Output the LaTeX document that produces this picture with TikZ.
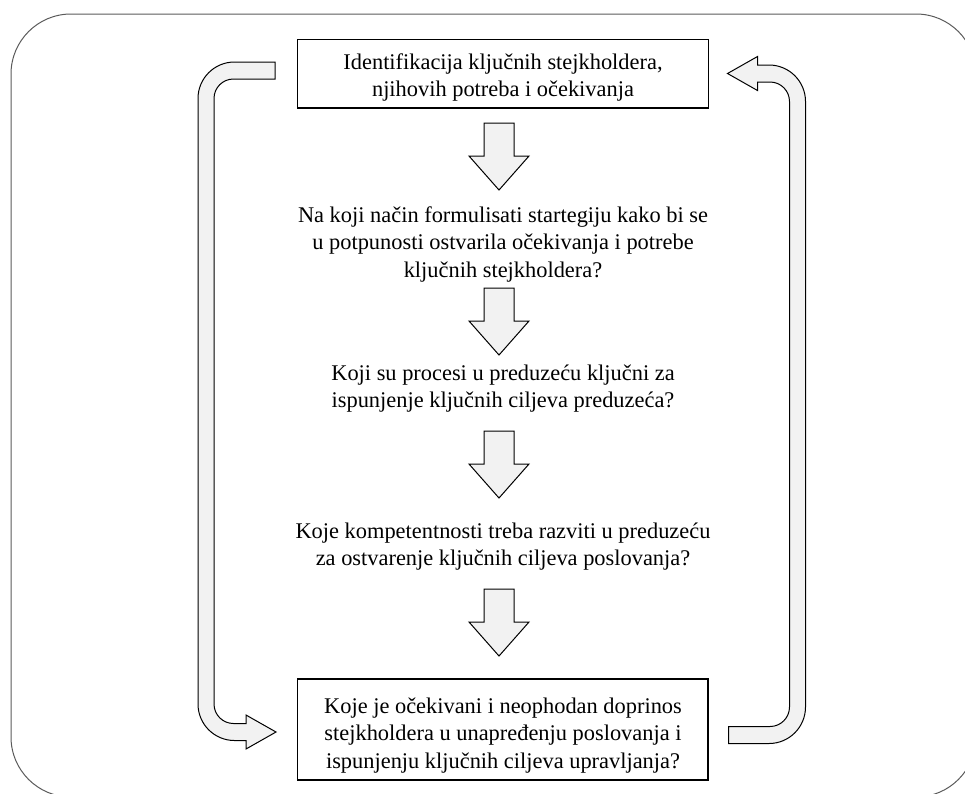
\documentclass[tikz,border=0pt]{standalone}
\usepackage{fontspec}
\setmainfont{Liberation Serif}
\definecolor{arrowfill}{HTML}{F2F2F2}
\definecolor{framegray}{HTML}{5A5A5A}
\begin{document}
\begin{tikzpicture}[x=1pt,y=-1pt,
  txt/.style={font=\fontsize{22.4}{27.5}\selectfont, align=center, inner sep=0pt},
  stepbox/.style={draw=black, line width=1.2pt, inner sep=0pt, minimum width=410.5pt},
  flowarrow/.style={draw=black, line width=1pt, fill=arrowfill, line join=miter},
  outerframe/.style={draw=framegray, line width=1pt},
  dnarrow/.pic={\draw[flowarrow] (-15,0) -- (15,0) -- (15,33) -- (30,33) -- (0,67)
                 -- (-30,33) -- (-15,33) -- cycle;}]
\useasboundingbox (0,0) rectangle (965,793);
\clip (0,0) rectangle (965,793);

% rounded outer frame (runs past the right and bottom edges)
\draw[outerframe, rounded corners=60pt] (11,14) rectangle (976,797);

% boxed steps
\node[stepbox, minimum height=68.5pt] (box1) at (503,73.75) {};
\node[stepbox, minimum height=101pt] (box5) at (502.75,729.5) {};

% step texts
\node[txt] (t1) at (503,77.7) {Identifikacija ključnih stejkholdera,\\njihovih potreba i očekivanja};
\node[txt] (t2) at (503,244.3) {Na koji način formulisati startegiju kako bi se\\u potpunosti ostvarila očekivanja i potrebe\\ključnih stejkholdera?};
\node[txt] (t3) at (503,388.4) {Koji su procesi u preduzeću ključni za\\ispunjenje ključnih ciljeva preduzeća?};
\node[txt] (t4) at (503,546.8) {Koje kompetentnosti treba razviti u preduzeću\\za ostvarenje ključnih ciljeva poslovanja?};
\node[txt] (t5) at (503,735.4) {Koje je očekivani i neophodan doprinos\\stejkholdera u unapređenju poslovanja i\\ispunjenju ključnih ciljeva upravljanja?};

% downward block arrows between steps
\pic (a1) at (499,123) {dnarrow};
\pic (a2) at (499,288) {dnarrow};
\pic (a3) at (499,431) {dnarrow};
\pic (a4) at (499,589) {dnarrow};

% left bent arrow: from the first step down to the last one
\draw[flowarrow] (275,79) -- (233.5,79) arc[start angle=90, end angle=180, radius=19.5pt]
  -- (214,704) arc[start angle=180, end angle=270, radius=19.5pt]
  -- (246,723.5) -- (246,715) -- (276,732) -- (246,749) -- (246,740.5)
  -- (234.5,740.5) arc[start angle=270, end angle=180, radius=36.5pt]
  -- (198,98.5) arc[start angle=180, end angle=90, radius=36.5pt]
  -- (275,62) -- cycle;

% right bent arrow: from the last step back up to the first one
\begin{scope}[rotate around={180:(501.75,402.75)}]
\draw[flowarrow] (275,79) -- (233.5,79) arc[start angle=90, end angle=180, radius=19.5pt]
  -- (214,704) arc[start angle=180, end angle=270, radius=19.5pt]
  -- (246,723.5) -- (246,715) -- (276,732) -- (246,749) -- (246,740.5)
  -- (234.5,740.5) arc[start angle=270, end angle=180, radius=36.5pt]
  -- (198,98.5) arc[start angle=180, end angle=90, radius=36.5pt]
  -- (275,62) -- cycle;
\end{scope}
\end{tikzpicture}
\end{document}
